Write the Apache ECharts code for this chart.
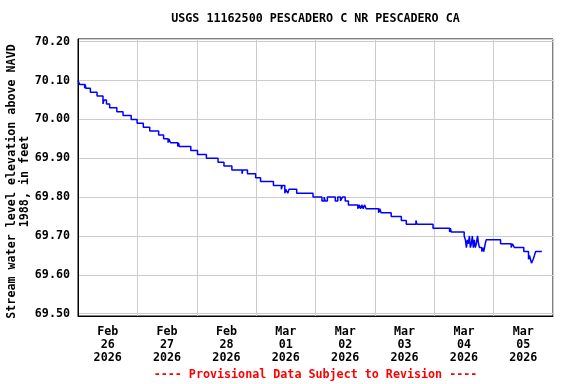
<!DOCTYPE html>
<html>
<head>
<meta charset="utf-8">
<script src="https://cdn.jsdelivr.net/npm/echarts@6/dist/echarts.min.js"></script>
<style>html,body{margin:0;padding:0;background:#fff}#c{width:576px;height:384px}</style>
</head>
<body>
<div id="c"></div>
<script>
// Day labels (bands are one day each, starting Feb 26 2026 00:00)
const dayLabels = ['Feb\n26\n2026','Feb\n27\n2026','Feb\n28\n2026','Mar\n01\n2026','Mar\n02\n2026','Mar\n03\n2026','Mar\n04\n2026','Mar\n05\n2026'];
// Hours since Feb 26 00:00 at which the reading changes
const stepHours = [0.0,0.7,2.7,2.9,3.2,5.0,7.7,10.1,10.5,11.5,12.8,15.7,18.2,21.5,23.9,26.4,29.0,32.6,34.6,36.4,36.7,37.4,40.3,40.6,41.0,45.6,48.3,51.9,56.6,59.0,62.2,66.3,66.6,68.5,71.8,73.8,79.0,82.2,82.6,83.6,84.0,84.8,85.3,88.4,95.0,98.6,99.5,99.9,100.8,104.0,105.0,106.1,106.9,108.0,109.3,113.1,113.6,114.2,114.7,115.3,115.8,116.5,121.5,122.0,122.5,126.6,130.7,132.7,136.6,137.0,143.5,150.2,150.5,150.9,156.1,156.6,157.0,157.4,157.8,158.2,158.6,159.0,159.4,159.8,160.2,160.6,161.0,161.5,161.9,162.3,163.2,163.6,164.0,164.6,165.0,170.8,175.1,175.6,176.4,180.2,182.1,182.5,182.9,183.3,184.0,184.5,185.0,187.5];
// Stream water level (ft) from each of those hours
const stepLevels = [70.10,70.09,70.08,70.09,70.08,70.07,70.06,70.04,70.05,70.04,70.03,70.02,70.01,70.00,69.99,69.98,69.97,69.96,69.95,69.94,69.95,69.94,69.93,69.94,69.93,69.92,69.91,69.90,69.89,69.88,69.87,69.86,69.87,69.86,69.85,69.84,69.83,69.82,69.83,69.81,69.82,69.81,69.82,69.81,69.80,69.79,69.80,69.79,69.80,69.79,69.80,69.79,69.80,69.79,69.78,69.77,69.78,69.77,69.78,69.77,69.78,69.77,69.76,69.77,69.76,69.75,69.74,69.73,69.74,69.73,69.72,69.71,69.72,69.71,69.70,69.69,69.67,69.69,69.68,69.70,69.67,69.68,69.70,69.67,69.69,69.67,69.68,69.70,69.68,69.67,69.66,69.67,69.66,69.68,69.69,69.68,69.67,69.68,69.67,69.66,69.64,69.65,69.64,69.63,69.64,69.65,69.66,69.66];

const FONT = 'DejaVu Sans Mono';
const series = stepHours.map((h, i) => [h, stepLevels[i]]);
const chart = echarts.init(document.getElementById('c'), null, {renderer: 'canvas'});
chart.setOption({
  animation: false,
  backgroundColor: '#ffffff',
  title: [
    {text: 'USGS 11162500 PESCADERO C NR PESCADERO CA', left: 315.5, top: 13, textAlign: 'center', padding: 0,
     textStyle: {fontFamily: FONT, fontWeight: 'bold', fontSize: 11.7, color: '#000'}},
    {text: '---- Provisional Data Subject to Revision ----', left: 315.5, top: 369, textAlign: 'center', padding: 0,
     textStyle: {fontFamily: FONT, fontWeight: 'bold', fontSize: 11.7, color: '#ff0000'}}
  ],
  grid: {left: 78, right: 23, top: 39, bottom: 68, containLabel: false, outerBoundsMode: 'none',
         show: true, borderColor: '#000', borderWidth: 1, backgroundColor: 'transparent'},
  xAxis: [
    {type: 'value', min: 0, max: 192, interval: 24,
     axisLine: {show: true, lineStyle: {color: '#000', width: 1}}, axisTick: {show: false}, axisLabel: {show: false},
     splitLine: {show: true, lineStyle: {color: '#cccccc', width: 1}}},
    {type: 'category', data: dayLabels, boundaryGap: true, position: 'bottom',
     axisLine: {show: false}, axisTick: {show: false}, splitLine: {show: false},
     axisLabel: {interval: 0, margin: 9, fontFamily: FONT, fontWeight: 'bold', fontSize: 11.7, lineHeight: 13, color: '#000'}}
  ],
  yAxis: {
    type: 'value', min: 69.494, max: 70.207, splitNumber: 7,
    name: 'Stream water level elevation above NAVD\n1988, in feet', nameLocation: 'middle', nameRotate: 90, nameGap: 47,
    nameMoveOverlap: false,
    nameTextStyle: {fontFamily: FONT, fontWeight: 'bold', fontSize: 11.7, lineHeight: 13, color: '#000', padding: [0, 8, 0, 0]},
    axisLine: {show: true, lineStyle: {color: '#000', width: 1}}, axisTick: {show: false},
    axisLabel: {margin: 8, fontFamily: FONT, fontWeight: 'bold', fontSize: 11.7, color: '#000',
      showMinLabel: false, showMaxLabel: false,
      formatter: v => Math.abs(v * 10 - Math.round(v * 10)) < 1e-6 ? v.toFixed(2) : ''},
    splitLine: {show: true, lineStyle: {color: '#cccccc', width: 1}}
  },
  series: [{type: 'line', xAxisIndex: 0, data: series, step: 'end', showSymbol: false, symbol: 'none',
    lineStyle: {color: '#0000ff', width: 1.5}}]
});
</script>
</body>
</html>
